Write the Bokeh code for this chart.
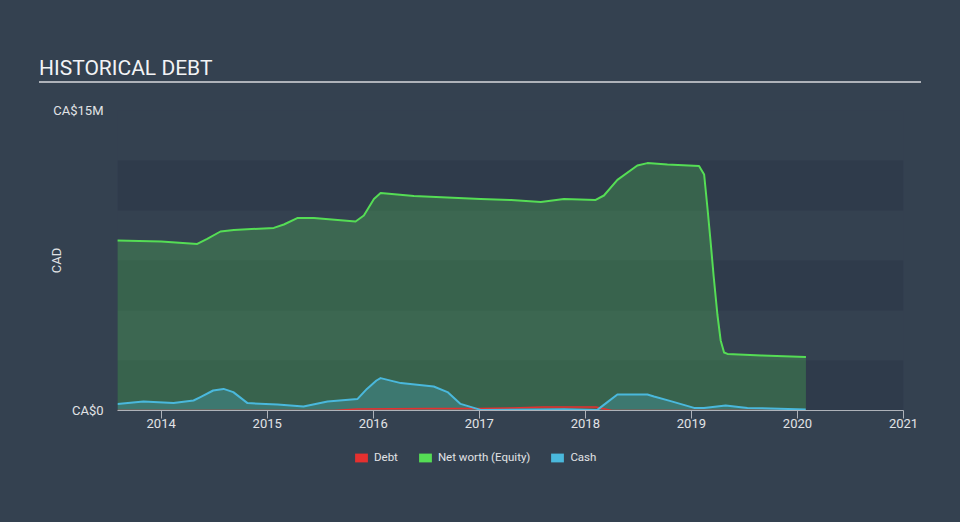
from bokeh.plotting import figure
from bokeh.layouts import column
from bokeh.models import (Legend, LegendItem, FixedTicker, Range1d,
                          ColumnDataSource, Div)
from bokeh.embed import file_html
from bokeh.resources import INLINE

# ---------------- data (decimal years, values in millions of CA$) ----------------
nw_dates = [2013.585, 2014.0, 2014.34, 2014.434, 2014.559, 2014.685, 2015.062, 2015.157,
            2015.283, 2015.44, 2015.833, 2015.911, 2016.006, 2016.069, 2016.383, 2017.012,
            2017.3, 2017.58, 2017.798, 2018.097, 2018.175, 2018.302, 2018.49, 2018.585,
            2018.774, 2019.072, 2019.12, 2019.15, 2019.18, 2019.21, 2019.245, 2019.276,
            2019.308, 2019.34, 2019.66, 2020.08]
nw_values = [8.5, 8.45, 8.33, 8.58, 8.95, 9.03, 9.13, 9.3,
             9.62, 9.62, 9.45, 9.75, 10.58, 10.87, 10.72, 10.58,
             10.52, 10.43, 10.58, 10.53, 10.75, 11.53, 12.25, 12.37,
             12.3, 12.23, 11.8, 10.2, 8.5, 6.7, 4.8, 3.5,
             2.9, 2.83, 2.75, 2.67]

cash_dates = [2013.588, 2013.833, 2014.116, 2014.305, 2014.37, 2014.49, 2014.588, 2014.68,
              2014.814, 2015.097, 2015.342, 2015.569, 2015.852, 2015.94, 2016.03, 2016.069,
              2016.26, 2016.57, 2016.7, 2016.823, 2017.012, 2017.8, 2018.113, 2018.208,
              2018.302, 2018.585, 2018.647, 2018.805, 2019.025, 2019.119, 2019.323, 2019.528,
              2020.078]
cash_values = [0.33, 0.45, 0.37, 0.5, 0.67, 1.0, 1.08, 0.92,
               0.37, 0.3, 0.2, 0.45, 0.58, 1.08, 1.5, 1.62,
               1.37, 1.2, 0.92, 0.33, 0.03, 0.06, 0.03, 0.42,
               0.8, 0.8, 0.7, 0.47, 0.13, 0.13, 0.25, 0.13,
               0.05]

debt_dates = [2013.588, 2015.63, 2015.85, 2016.5, 2017.0, 2017.3, 2017.6, 2018.1,
              2018.25, 2020.078]
debt_values = [0.0, 0.0, 0.08, 0.1, 0.1, 0.13, 0.17, 0.17, 0.0, 0.0]

year_ticks = [2014, 2015, 2016, 2017, 2018, 2019, 2020, 2021]
y_ticks = [0, 15]
y_tick_labels = ["CA$0", "CA$15M"]
series_names = ["Debt", "Net worth (Equity)", "Cash"]
title_text = "HISTORICAL DEBT"

# ---------------- style ----------------
BG = "#344150"
STRIPE = "#2f3b4b"
TXT = "#e1e3e6"
GREEN = "#55dd55"
BLUE = "#4ab8dc"
RED = "#e5302f"
FONT = "Roboto"

# ---------------- header ----------------
header = Div(
    text=(f'<div style="position:relative;width:960px;height:96px;background:{BG};">'
          f'<div style="position:absolute;left:39px;top:56px;font-family:Roboto;'
          f'font-size:21px;line-height:24px;color:#f2f3f5;white-space:nowrap;">{title_text}</div>'
          f'<div style="position:absolute;left:39px;top:81px;width:882px;height:2px;'
          f'background:#aeb2b9;"></div></div>'),
    width=960, height=96, margin=(0, 0, 0, 0),
    styles={"background-color": BG})

# ---------------- main chart ----------------
x0, x1 = 2013.588, 2021.0
p = figure(width=960, height=346, x_range=Range1d(x0, x1), y_range=Range1d(0, 15),
           toolbar_location=None, output_backend="svg",
           min_border_left=117, min_border_right=57, min_border_top=14,
           min_border_bottom=32, margin=(0, 0, 0, 0))
p.background_fill_color = BG
p.border_fill_color = None
p.styles = {"background-color": BG}
p.outline_line_color = None
p.grid.visible = False

# stripes
step = 2.5
bottoms = [i * step for i in range(0, 5, 2)]
p.quad(left=x0, right=x1, bottom=bottoms, top=[b + step for b in bottoms],
       fill_color=STRIPE, line_color=None)

nw_src = ColumnDataSource(dict(x=nw_dates, y=nw_values))
cash_src = ColumnDataSource(dict(x=cash_dates, y=cash_values))
debt_src = ColumnDataSource(dict(x=debt_dates, y=debt_values))

p.varea(x="x", y1=0, y2="y", source=nw_src, fill_color=GREEN, fill_alpha=0.25)
p.varea(x="x", y1=0, y2="y", source=debt_src, fill_color=RED, fill_alpha=0.3)
p.varea(x="x", y1=0, y2="y", source=cash_src, fill_color=BLUE, fill_alpha=0.25)
p.line(x="x", y="y", source=debt_src, line_color=RED, line_width=1.5)
p.line(x="x", y="y", source=nw_src, line_color=GREEN, line_width=2, line_join="round")
p.line(x="x", y="y", source=cash_src, line_color=BLUE, line_width=2, line_join="round")

# x axis
xa = p.xaxis[0]
xa.ticker = FixedTicker(ticks=year_ticks)
xa.minor_tick_line_color = None
xa.major_tick_out = 8
xa.major_tick_in = 0
xa.major_tick_line_color = "#aeb2b9"
xa.axis_line_color = "#aeb2b9"
xa.major_label_standoff = 0
xa.major_label_text_font = FONT
xa.major_label_text_font_size = "13px"
xa.major_label_text_color = TXT

# y axis
ya = p.yaxis[0]
ya.ticker = FixedTicker(ticks=y_ticks)
ya.major_label_overrides = {t: s for t, s in zip(y_ticks, y_tick_labels)}
ya.axis_line_color = None
ya.major_tick_line_color = None
ya.minor_tick_line_color = None
ya.major_tick_out = 0
ya.major_tick_in = 0
ya.major_label_standoff = 14
ya.major_label_text_font = FONT
ya.major_label_text_font_size = "13px"
ya.major_label_text_color = TXT
ya.axis_label = "CAD"
ya.axis_label_text_font = FONT
ya.axis_label_text_font_size = "13px"
ya.axis_label_text_font_style = "normal"
ya.axis_label_text_color = TXT
ya.axis_label_standoff = -14

# ---------------- legend strip ----------------
lf = figure(width=960, height=80, x_range=Range1d(0, 1), y_range=Range1d(0, 1),
            toolbar_location=None, output_backend="svg",
            x_axis_type=None, y_axis_type=None,
            min_border_left=117, min_border_right=57, min_border_top=0,
            min_border_bottom=0, margin=(0, 0, 0, 0))
lf.background_fill_color = None
lf.border_fill_color = None
lf.styles = {"background-color": BG}
lf.outline_line_color = None
lf.grid.visible = False

colors = [RED, GREEN, BLUE]
items = []
for name, c in zip(series_names, colors):
    r = lf.quad(left=[-2], right=[-1], bottom=[-2], top=[-1],
                fill_color=c, line_color=None)
    items.append(LegendItem(label=name, renderers=[r]))
legend = Legend(items=items, orientation="horizontal", location=(236, 58),
                glyph_width=16, glyph_height=11, label_height=11,
                label_standoff=5, spacing=19,
                label_text_font=FONT, label_text_font_size="11.5px",
                label_text_color=TXT, background_fill_alpha=0,
                border_line_color=None, padding=0, margin=0)
lf.add_layout(legend, "center")

layout = column(header, p, lf, spacing=0)
open("out.html", "w").write(file_html(layout, INLINE))
